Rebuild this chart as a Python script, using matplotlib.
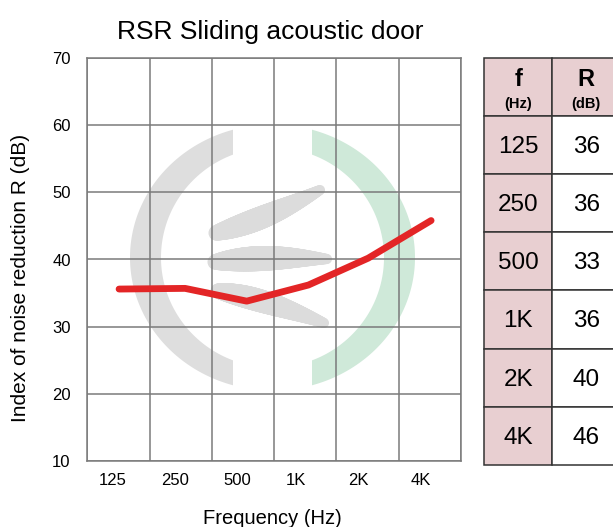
import numpy as np
import matplotlib
matplotlib.use("Agg")
import matplotlib.pyplot as plt
from matplotlib.patches import Polygon, Rectangle, Circle

plt.rcParams['font.family'] = ['Liberation Sans', 'DejaVu Sans']

# data
freq_labels = ["125", "250", "500", "1K", "2K", "4K"]
line_x = [0.51, 1.57, 2.56, 3.55, 4.51, 5.52]
line_r = [35.6, 35.7, 33.8, 36.2, 40.2, 45.8]
table_r = [36, 36, 33, 36, 40, 46]
y_ticks = [10, 20, 30, 40, 50, 60, 70]

W, H = 613, 527
fig = plt.figure(figsize=(W / 100, H / 100), dpi=100)

# background layer in pixel coordinates (logo + table)
deco = fig.add_axes([0, 0, 1, 1], zorder=0)
deco.set_xlim(0, W)
deco.set_ylim(H, 0)
deco.axis('off')

# main chart
ax = fig.add_axes([87.3 / W, 1 - 461 / H, (461 - 87.3) / W, (461 - 58) / H], zorder=1)
ax.patch.set_alpha(0)

# --- watermark logo ---
def arc_band(side, color):
    cx, cy = 272.5, 257.5
    ao, bo, ai, bi, cut = 142.5, 133, 111.5, 110, 39.5
    to = np.arccos(cut / ao)
    ti = np.arccos(cut / ai)
    t1 = np.linspace(-to, to, 120)
    t2 = np.linspace(ti, -ti, 120)
    xs = np.r_[ao * np.cos(t1), ai * np.cos(t2)] * side + cx
    ys = np.r_[bo * np.sin(t1), bi * np.sin(t2)] + cy
    deco.add_patch(Polygon(np.c_[xs, ys], closed=True, fc=color, ec='none'))


def leaf(p0, c, p1, r0, r1, bulge, color='#dcdcdc'):
    p0, c, p1 = np.array(p0), np.array(c), np.array(p1)
    t = np.linspace(0, 1, 140)
    pts = ((1 - t) ** 2)[:, None] * p0 + (2 * (1 - t) * t)[:, None] * c + (t ** 2)[:, None] * p1
    r = r0 * (1 - t) + r1 * t + bulge * np.sin(np.pi * t ** 0.85)
    for (x, y), rr in zip(pts, r):
        deco.add_patch(Circle((x, y), rr, fc=color, ec='none'))


arc_band(-1, '#dedede')
arc_band(1, '#cfe9d9')
leaf((216, 233), (266, 219), (320, 190), 7.5, 5, 5)
leaf((215, 262), (268, 256), (327, 259), 7.5, 5, 6)
leaf((218, 291), (263, 298.5), (324, 323), 7.5, 5, 5)

# --- chart ---
ax.set_xlim(0, 6)
ax.set_ylim(10, 70)
ax.set_xticks(np.arange(7))
ax.set_xticklabels([])
ax.set_xticks(np.arange(len(freq_labels)) + 0.19, minor=True)
ax.set_xticklabels(freq_labels, minor=True, ha='left')
ax.set_yticks(y_ticks)
ax.tick_params(which='both', length=0)
ax.tick_params(axis='x', which='minor', pad=8.4, labelsize=12)
ax.tick_params(axis='y', pad=12, labelsize=12)
ax.set_axisbelow(True)
ax.grid(True, which='major', color='#7a7a7a', lw=1.1)
for s in ax.spines.values():
    s.set_color('#7a7a7a')
    s.set_linewidth(1.1)

ax.plot(line_x, line_r, color='#e32526', lw=4.9,
        solid_capstyle='round', solid_joinstyle='round', zorder=3)

fig.text(270 / W, 1 - 39 / H, 'RSR Sliding acoustic door',
         ha='center', va='baseline', fontsize=19)
fig.text(272.8 / W, 1 - 524 / H, 'Frequency (Hz)',
         ha='center', va='baseline', fontsize=14.5)
fig.text(21 / W, 1 - 278 / H, 'Index of noise reduction R (dB)',
         rotation=90, ha='center', va='center', fontsize=15)

# --- table ---
x0, xm, x1 = 484.3, 552.3, 620.3
top, rh = 58, 58.1
pink = '#e8cfd1'
edge = '#333333'
n = len(freq_labels) + 1
for k in range(n):
    y = top + k * rh
    deco.add_patch(Rectangle((x0, y), xm - x0, rh, fc=pink, ec=edge, lw=1.1))
    deco.add_patch(Rectangle((xm, y), x1 - xm, rh, fc=pink if k == 0 else 'white',
                             ec=edge, lw=1.1))

cf, cr = (x0 + xm) / 2, (xm + x1) / 2
deco.text(cf, 80, 'f', ha='center', va='center', fontsize=17, fontweight='bold')
deco.text(cf, 104, '(Hz)', ha='center', va='center', fontsize=10.5, fontweight='bold')
deco.text(cr, 80, 'R', ha='center', va='center', fontsize=17, fontweight='bold')
deco.text(cr, 104, '(dB)', ha='center', va='center', fontsize=10.5, fontweight='bold')
for k, (f, r) in enumerate(zip(freq_labels, table_r)):
    yc = top + (k + 1.5) * rh + 2
    deco.text(cf, yc, f, ha='center', va='center', fontsize=17.5)
    deco.text(cr, yc, str(r), ha='center', va='center', fontsize=17.5)

fig.savefig('out.png', dpi=100)
